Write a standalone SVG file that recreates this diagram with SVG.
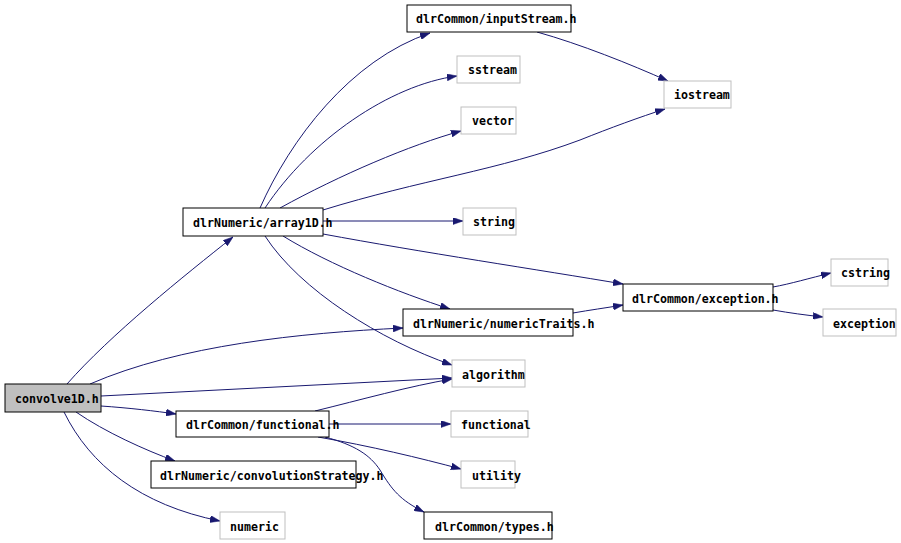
<svg xmlns="http://www.w3.org/2000/svg" width="901" height="543" viewBox="0 0 901 543">
<defs>
<style>
.n rect{fill:#ffffff;stroke:#000000;stroke-width:1}
.g rect{fill:#ffffff;stroke:#bfbfbf;stroke-width:1}
.root rect{fill:#bfbfbf;stroke:#000000;stroke-width:1}
text{font-family:"DejaVu Sans Mono","Liberation Mono",monospace;font-weight:bold;font-size:11.6px;fill:#000000}
#edges path{fill:none;stroke:#191970;stroke-width:1;marker-end:url(#ah)}
</style>
<marker id="ah" viewBox="0 0 10 7" refX="10" refY="3.5" markerWidth="10" markerHeight="7" markerUnits="userSpaceOnUse" orient="auto">
<path d="M0,0 L10,3.5 L0,7 Z" fill="#191970" stroke="#191970" stroke-width="0.5"/>
</marker>
</defs>
<rect width="901" height="543" fill="#ffffff"/>
<g id="edges">
<path d="M67,384 C110,335 185,275 233,237"/>
<path d="M90,384 C180,345 300,333 403,328"/>
<path d="M101,396 L452,378"/>
<path d="M101,406 C130,408 155,411 176,414"/>
<path d="M76,412 C105,432 145,450 175,461"/>
<path d="M64,412 C90,465 140,505 220,521"/>
<path d="M260,208 C290,140 350,60 430,33"/>
<path d="M265,208 C310,140 390,85 457,76"/>
<path d="M280,208 C340,175 410,145 461,131"/>
<path d="M323,210 C420,180 500,170 580,140 C610,128 640,117 665,109"/>
<path d="M323,221 L463,221"/>
<path d="M323,234 C420,252 540,270 623,284"/>
<path d="M283,236 C330,265 400,293 450,309"/>
<path d="M265,236 C300,290 380,340 452,365"/>
<path d="M537,32 C580,44 630,64 668,81"/>
<path d="M573,313 C590,310 605,308 623,305"/>
<path d="M773,287 C790,284 810,278 831,273"/>
<path d="M773,310 C790,313 805,315 823,317"/>
<path d="M315,411 C360,400 410,386 452,379"/>
<path d="M329,424 L451,424"/>
<path d="M318,437 C370,446 420,458 461,469"/>
<path d="M325,437 C355,445 370,455 380,470 C392,490 400,500 424,512"/>
</g>
<g id="convolve1D" class="root"><rect x="5" y="384" width="96" height="28"/><text x="15" y="403">convolve1D.h</text></g>
<g id="array1D" class="n"><rect x="183" y="208" width="140" height="28"/><text x="193" y="226.5">dlrNumeric/array1D.h</text></g>
<g id="inputStream" class="n"><rect x="407" y="5" width="164" height="27"/><text x="416" y="23">dlrCommon/inputStream.h</text></g>
<g id="sstream" class="g"><rect x="457" y="56" width="63" height="27"/><text x="468" y="74">sstream</text></g>
<g id="iostream" class="g"><rect x="664" y="81" width="67" height="27"/><text x="674" y="99">iostream</text></g>
<g id="vector" class="g"><rect x="461" y="107" width="55" height="27"/><text x="472" y="125">vector</text></g>
<g id="string" class="g"><rect x="463" y="208" width="53" height="27"/><text x="473" y="226">string</text></g>
<g id="exceptionH" class="n"><rect x="623" y="284" width="150" height="27"/><text x="632" y="302.5">dlrCommon/exception.h</text></g>
<g id="cstring" class="g"><rect x="831" y="259" width="57" height="27"/><text x="841" y="277">cstring</text></g>
<g id="exception" class="g"><rect x="823" y="309" width="73" height="27"/><text x="833" y="327.5">exception</text></g>
<g id="numericTraits" class="n"><rect x="403" y="309" width="170" height="27"/><text x="413" y="327.5">dlrNumeric/numericTraits.h</text></g>
<g id="algorithm" class="g"><rect x="452" y="360" width="73" height="27"/><text x="462" y="378.5">algorithm</text></g>
<g id="functionalH" class="n"><rect x="176" y="411" width="153" height="26"/><text x="186" y="428.5">dlrCommon/functional.h</text></g>
<g id="functional" class="g"><rect x="451" y="411" width="77" height="26"/><text x="461" y="428.5">functional</text></g>
<g id="convolutionStrategy" class="n"><rect x="151" y="461" width="205" height="27"/><text x="160" y="479.5">dlrNumeric/convolutionStrategy.h</text></g>
<g id="utility" class="g"><rect x="461" y="461" width="54" height="27"/><text x="472" y="479.5">utility</text></g>
<g id="numeric" class="g"><rect x="220" y="512" width="65" height="27"/><text x="230" y="530.5">numeric</text></g>
<g id="types" class="n"><rect x="424" y="512" width="128" height="27"/><text x="435" y="530.5">dlrCommon/types.h</text></g>
</svg>
